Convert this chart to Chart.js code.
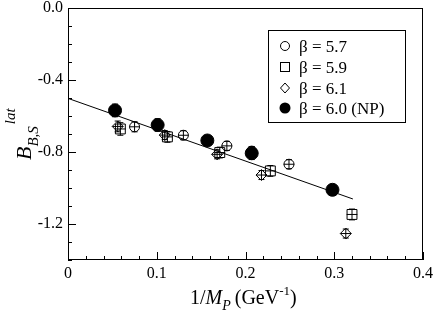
<!DOCTYPE html>
<html>
<head>
<meta charset="utf-8">
<script src="https://cdn.jsdelivr.net/npm/chart.js@4/dist/chart.umd.min.js"></script>
<style>
  body { margin: 0; background: #fff; }
  canvas { display: block; }
</style>
</head>
<body>
<canvas id="bChart" width="436" height="319"></canvas>
<script>
// values
const x57 = [0.075, 0.130, 0.179, 0.207, 0.249];
const y57 = [-0.660, -0.707, -0.766, -0.795, -0.868];
const e57 = [0.028, 0.025, 0.025, 0.025, 0.025];

const x59 = [0.059, 0.112, 0.171, 0.228, 0.320];
const y59 = [-0.672, -0.716, -0.803, -0.905, -1.147];
const e59 = [0.035, 0.030, 0.030, 0.030, 0.030];

const x61 = [0.056, 0.109, 0.168, 0.218, 0.313];
const y61 = [-0.658, -0.706, -0.813, -0.928, -1.253];
const e61 = [0.030, 0.025, 0.025, 0.025, 0.025];

const xNP = [0.053, 0.101, 0.157, 0.207, 0.298];
const yNP = [-0.569, -0.650, -0.736, -0.807, -1.010];
const eNP = [0.035, 0.035, 0.028, 0.035, 0.028];

const fitX = [0, 0.321];
const fitY = [-0.502, -1.061];

const xErrOpen = 0.006; // horizontal bar drawn through the open symbols

const xTicks = [0, 0.1, 0.2, 0.3, 0.4];
const yTicks = [0, -0.4, -0.8, -1.2];
const legendLabels = ['β = 5.7', 'β = 5.9', 'β = 6.1', 'β = 6.0 (NP)'];

const serif = "'Liberation Serif', 'DejaVu Serif', serif";

function pts(xs, ys) {
  return xs.map((x, i) => ({ x: x, y: ys[i] }));
}

// error bars, drawn right after each dataset so the layering stays right
const errorBars = {
  id: 'errorBars',
  afterDatasetDraw(chart, args) {
    const ds = chart.data.datasets[args.index];
    if (!ds.errY) return;
    const ctx = chart.ctx;
    const xs = chart.scales.x, ys = chart.scales.y;
    ctx.save();
    ctx.strokeStyle = '#000';
    ctx.lineWidth = 1;
    ds.data.forEach((p, i) => {
      const px = xs.getPixelForValue(p.x);
      const top = ys.getPixelForValue(p.y + ds.errY[i]);
      const bot = ys.getPixelForValue(p.y - ds.errY[i]);
      ctx.beginPath();
      ctx.moveTo(px, top); ctx.lineTo(px, bot);
      ctx.moveTo(px - 3, top); ctx.lineTo(px + 3, top);
      ctx.moveTo(px - 3, bot); ctx.lineTo(px + 3, bot);
      if (ds.errX) {
        const py = ys.getPixelForValue(p.y);
        ctx.moveTo(xs.getPixelForValue(p.x - ds.errX), py);
        ctx.lineTo(xs.getPixelForValue(p.x + ds.errX), py);
      }
      ctx.stroke();
    });
    ctx.restore();
  }
};

// frame, inward ticks, axis titles and the legend box
const decorations = {
  id: 'decorations',
  afterDraw(chart) {
    const ctx = chart.ctx;
    const a = chart.chartArea;
    const xs = chart.scales.x, ys = chart.scales.y;
    ctx.save();
    ctx.strokeStyle = '#000';
    ctx.lineWidth = 1;
    ctx.strokeRect(a.left + 0.5, a.top + 0.5, a.right - a.left - 1, a.bottom - a.top - 1);

    ctx.beginPath();
    for (let k = 0; k <= 20; k++) {
      const px = Math.round(xs.getPixelForValue(k * 0.02)) + 0.5;
      const len = k % 5 === 0 ? 8 : 4;
      ctx.moveTo(px, a.bottom); ctx.lineTo(px, a.bottom - len);
    }
    for (let k = 0; k <= 14; k++) {
      const py = Math.round(ys.getPixelForValue(-k * 0.1)) + 0.5;
      const len = k % 4 === 0 ? 8 : 4;
      ctx.moveTo(a.left, py); ctx.lineTo(a.left + len, py);
    }
    ctx.stroke();

    ctx.fillStyle = '#000';
    ctx.textBaseline = 'alphabetic';

    // x title: 1/M_P (GeV^-1)
    let x = 190, base = 304;
    ctx.font = '20px ' + serif;
    ctx.fillText('1/', x, base); x += ctx.measureText('1/').width;
    ctx.font = 'italic 20px ' + serif;
    ctx.fillText('M', x, base); x += ctx.measureText('M').width;
    ctx.font = 'italic 14px ' + serif;
    ctx.fillText('P', x, base + 6); x += ctx.measureText('P').width + 4;
    ctx.font = '20px ' + serif;
    ctx.fillText('(GeV', x, base); x += ctx.measureText('(GeV').width;
    ctx.font = '13px ' + serif;
    ctx.fillText('-1', x, base - 9); x += ctx.measureText('-1').width;
    ctx.font = '20px ' + serif;
    ctx.fillText(')', x, base);

    // y title: B_{B,S}^{lat}, rotated
    ctx.save();
    ctx.translate(31, 160);
    ctx.rotate(-Math.PI / 2);
    let t = 0;
    ctx.font = 'italic 22px ' + serif;
    ctx.fillText('B', t, 0); t += ctx.measureText('B').width;
    ctx.font = 'italic 15px ' + serif;
    ctx.fillText('B,S', t, 7); t += ctx.measureText('B,S').width;
    ctx.fillText('lat', t + 2, -16);
    ctx.restore();

    // legend
    const lx = 268, ly = 30, lw = 137, lh = 92;
    ctx.strokeRect(lx + 0.5, ly + 0.5, lw, lh);
    ctx.font = '17px ' + serif;
    const rows = [46, 67, 88, 108];
    legendLabels.forEach((lab, i) => {
      const sx = 285, sy = rows[i];
      ctx.beginPath();
      if (i === 0) {
        ctx.arc(sx, sy, 4.5, 0, Math.PI * 2); ctx.stroke();
      } else if (i === 1) {
        ctx.strokeRect(sx - 4.5, sy - 4.5, 9, 9);
      } else if (i === 2) {
        ctx.moveTo(sx, sy - 5); ctx.lineTo(sx + 4.5, sy); ctx.lineTo(sx, sy + 5);
        ctx.lineTo(sx - 4.5, sy); ctx.closePath(); ctx.stroke();
      } else {
        ctx.arc(sx, sy, 5.5, 0, Math.PI * 2); ctx.fill();
      }
      ctx.fillText(lab, 299, sy + 6);
    });
    ctx.restore();
  }
};

const ctx = document.getElementById('bChart').getContext('2d');
new Chart(ctx, {
  type: 'scatter',
  data: {
    datasets: [
      { label: legendLabels[0], data: pts(x57, y57), errY: e57, errX: xErrOpen,
        pointStyle: 'circle', pointRadius: 5, borderColor: '#000', borderWidth: 1,
        backgroundColor: 'rgba(0,0,0,0)', order: 3 },
      { label: legendLabels[1], data: pts(x59, y59), errY: e59, errX: xErrOpen,
        pointStyle: 'rect', pointRadius: 7, borderColor: '#000', borderWidth: 1,
        backgroundColor: 'rgba(0,0,0,0)', order: 2 },
      { label: legendLabels[2], data: pts(x61, y61), errY: e61, errX: xErrOpen,
        pointStyle: 'rectRot', pointRadius: 5.5, borderColor: '#000', borderWidth: 1,
        backgroundColor: 'rgba(0,0,0,0)', order: 1 },
      { label: legendLabels[3], data: pts(xNP, yNP), errY: eNP,
        pointStyle: 'circle', pointRadius: 6.5, borderColor: '#000', borderWidth: 1,
        backgroundColor: '#000', order: 0 },
      { type: 'line', label: 'fit', data: pts(fitX, fitY), showLine: true,
        borderColor: '#000', borderWidth: 1, pointRadius: 0, fill: false, order: 5 }
    ]
  },
  options: {
    responsive: false,
    animation: false,
    events: [],
    layout: { padding: { top: 8, right: 13, left: 0, bottom: 0 } },
    plugins: { legend: { display: false }, tooltip: { enabled: false } },
    scales: {
      x: {
        type: 'linear', min: 0, max: 0.4,
        grid: { display: false, drawTicks: false },
        border: { display: false },
        afterBuildTicks: (s) => { s.ticks = xTicks.map(v => ({ value: v })); },
        afterFit: (s) => { s.height = 59; s.paddingLeft = 0; s.paddingRight = 0; },
        ticks: {
          color: '#000', padding: 4, maxRotation: 0,
          font: { family: serif, size: 16 },
          callback: (v) => v === 0 ? '0' : v.toFixed(1)
        }
      },
      y: {
        type: 'linear', min: -1.4, max: 0,
        grid: { display: false, drawTicks: false },
        border: { display: false },
        afterBuildTicks: (s) => { s.ticks = yTicks.map(v => ({ value: v })); },
        afterFit: (s) => { s.width = 68; s.paddingTop = 0; s.paddingBottom = 0; },
        ticks: {
          color: '#000', padding: 5,
          font: { family: serif, size: 16 },
          callback: (v) => v.toFixed(1)
        }
      }
    }
  },
  plugins: [errorBars, decorations]
});
</script>
</body>
</html>
